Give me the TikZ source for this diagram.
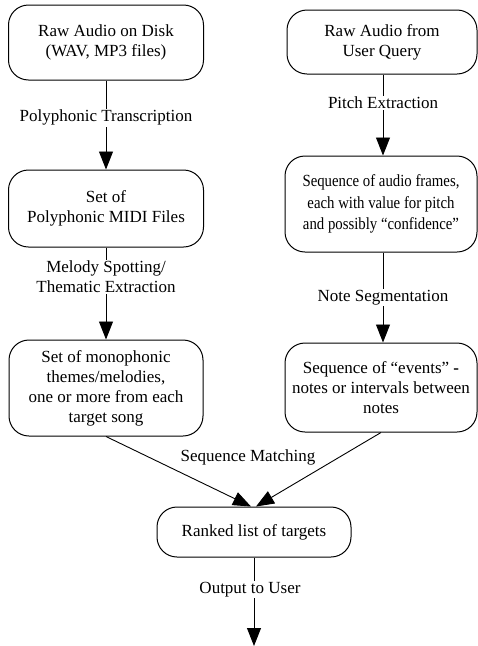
\documentclass[tikz,border=0pt]{standalone}
\usepackage{fontspec}
\setmainfont{Liberation Serif}
\usetikzlibrary{arrows.meta}
\begin{document}
\begin{tikzpicture}[x=1pt,y=-1pt,
  box/.style={draw, line width=1pt, rounded corners=20pt, align=center, inner sep=0pt},
  lbl/.style={fill=white, inner sep=1pt, align=center},
  flow/.style={line width=0.9pt, -{Triangle[length=18pt,width=14pt]}},
  every node/.style={font=\fontsize{17}{20}\selectfont}]
\useasboundingbox (0,0) rectangle (478,646);
\node[box, minimum width=195pt, minimum height=75pt] (A) at (106,42.5) {Raw Audio on Disk\\(WAV, MP3 files)};
\node[box, minimum width=195pt, minimum height=77pt] (B) at (106,208.5) {Set of\\Polyphonic MIDI Files};
\node[box, minimum width=194pt, minimum height=96pt] (C) at (106,388) {Set of monophonic\\themes/melodies,\\one or more from each\\target song};
\node[box, minimum width=190pt, minimum height=64pt] (D) at (382,42) {Raw Audio from\\User Query};
\node[box, minimum width=192pt, minimum height=96pt] (E) at (381,204) {\scalebox{0.87}[1]{\fontsize{17}{21.5}\selectfont\begin{tabular}{@{}c@{}}Sequence of audio frames,\\each with value for pitch\\and possibly “confidence”\end{tabular}}};
\node[box, minimum width=192pt, minimum height=89pt] (F) at (381,387.5) {Sequence of “events” \textbf{-}\\notes or intervals between\\notes};
\node[box, minimum width=194pt, minimum height=50pt] (G) at (254,532) {Ranked list of targets};
\coordinate (out) at (254,646);

\draw[flow] (A) -- (B) node[lbl, pos=0.42] {Polyphonic Transcription};
\draw[flow] (B) -- (C) node[lbl, pos=0.32] {Melody Spotting/\\Thematic Extraction};
\draw[flow] (D.south -| 383,0) -- (E.north -| 383,0) node[lbl, pos=0.35] {Pitch Extraction};
\draw[flow] (E.south -| 383,0) -- (F.north -| 383,0) node[lbl, pos=0.5] {Note Segmentation};
\draw[flow] (C.south) -- ([xshift=-3pt]G.north);
\draw[flow] (F.south) -- ([xshift=2pt]G.north);
\node[font=\fontsize{17}{20}\selectfont] (SM) at (248,457) {Sequence Matching};
\draw[flow] (G) -- (out) node[lbl, pos=0.36, xshift=-4pt] {Output to User};
\end{tikzpicture}
\end{document}
